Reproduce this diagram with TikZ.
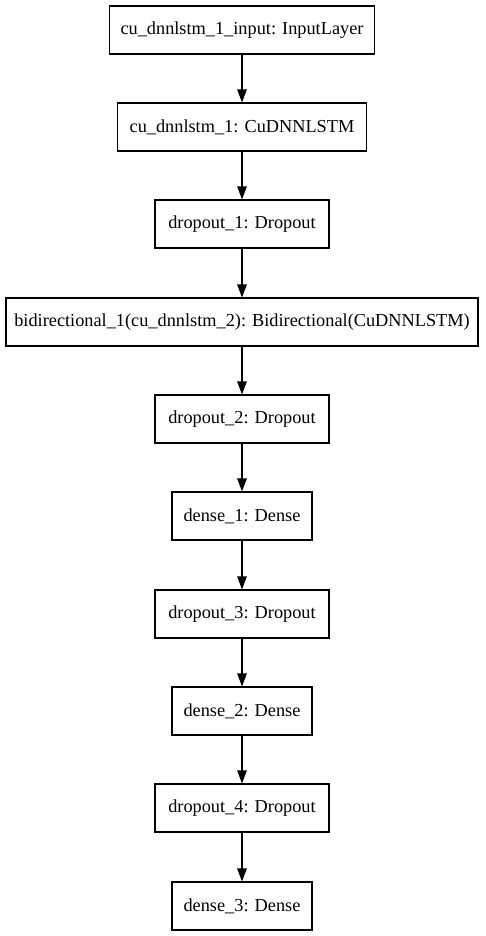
\documentclass[tikz,border=0pt]{standalone}
\usepackage{fontspec}
\setmainfont{Liberation Serif}
\usetikzlibrary{arrows.meta}
\begin{document}
\begin{tikzpicture}[x=1pt,y=-1pt,
  layer/.style={draw=black, line width=1.1pt, minimum height=48pt, inner sep=0pt, font=\fontsize{18.3pt}{20pt}\selectfont, fill=white},
  conn/.style={line width=1.1pt, -{Triangle[length=13pt,width=9.5pt]}}]
\useasboundingbox (0,0) rectangle (485,936);
\node[layer, minimum width=265pt] (n1) at (242,30) {cu\_dnnlstm\_1\_input: InputLayer};
\node[layer, minimum width=249pt] (n2) at (242,127) {cu\_dnnlstm\_1: CuDNNLSTM};
\node[layer, minimum width=174pt] (n3) at (242,224) {dropout\_1: Dropout};
\node[layer, minimum width=472pt] (n4) at (242,322) {bidirectional\_1(cu\_dnnlstm\_2): Bidirectional(CuDNNLSTM)};
\node[layer, minimum width=174pt] (n5) at (242,419) {dropout\_2: Dropout};
\node[layer, minimum width=140pt] (n6) at (242,516) {dense\_1: Dense};
\node[layer, minimum width=174pt] (n7) at (242,614) {dropout\_3: Dropout};
\node[layer, minimum width=140pt] (n8) at (242,711) {dense\_2: Dense};
\node[layer, minimum width=174pt] (n9) at (242,808) {dropout\_4: Dropout};
\node[layer, minimum width=140pt] (n10) at (242,906) {dense\_3: Dense};
\draw[conn] (n1) -- (n2);
\draw[conn] (n2) -- (n3);
\draw[conn] (n3) -- (n4);
\draw[conn] (n4) -- (n5);
\draw[conn] (n5) -- (n6);
\draw[conn] (n6) -- (n7);
\draw[conn] (n7) -- (n8);
\draw[conn] (n8) -- (n9);
\draw[conn] (n9) -- (n10);
\end{tikzpicture}
\end{document}
